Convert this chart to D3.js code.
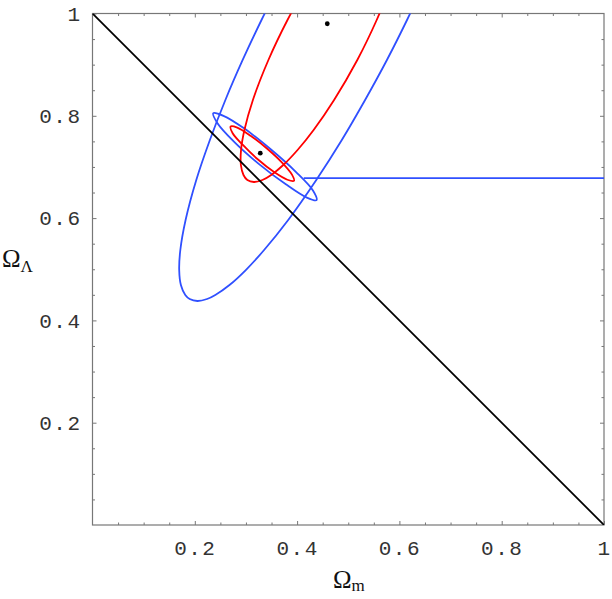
<!DOCTYPE html>
<html>
<head>
<meta charset="utf-8">
<script src="https://cdn.jsdelivr.net/npm/d3@7"></script>
<style>
  html, body { margin: 0; padding: 0; background: #fff; }
  svg { display: block; }
</style>
</head>
<body>
<svg id="chart" width="612" height="599"></svg>
<script>
// ---- data (Omega_m, Omega_Lambda) ----
const majorTicks = [0.2, 0.4, 0.6, 0.8, 1];
const majorTickLabels = ["0.2", "0.4", "0.6", "0.8", "1"];
const minorTicks = [0.05,0.1,0.15,0.25,0.3,0.35,0.45,0.5,0.55,0.65,0.7,0.75,0.85,0.9,0.95];

const flatLine = [[0, 1], [1, 0]];

const blueLarge = [
  [0.3599,1.0459],[0.3304,0.9873],[0.2936,0.9091],[0.2598,0.8309],[0.2295,0.7527],
  [0.2029,0.6745],[0.1820,0.5963],[0.1717,0.5376],[0.1695,0.4985],[0.1728,0.4692],
  [0.1814,0.4497],[0.1900,0.4418],[0.2051,0.4379],[0.2240,0.4418],[0.2401,0.4497],
  [0.2678,0.4692],[0.2997,0.4985],[0.3355,0.5376],[0.3826,0.5963],[0.4375,0.6745],
  [0.4874,0.7527],[0.5329,0.8309],[0.5756,0.9091],[0.6149,0.9873],[0.6424,1.0459]
];
const blueSmall = [
  [0.438,0.635],[0.419,0.640],[0.378,0.666],[0.325,0.706],[0.276,0.750],
  [0.244,0.786],[0.236,0.805],[0.256,0.800],[0.297,0.775],[0.349,0.734],
  [0.398,0.690],[0.431,0.654]
];
const blueFlat = [[0.413, 0.678], [1, 0.678]];

const redLarge = [
  [0.4137,1.0459],[0.3812,0.9873],[0.3439,0.9091],[0.3136,0.8309],[0.2970,0.7722],
  [0.2904,0.7331],[0.2901,0.7038],[0.2952,0.6843],[0.3028,0.6745],[0.3155,0.6706],
  [0.3322,0.6745],[0.3494,0.6843],[0.3730,0.7038],[0.4009,0.7331],[0.4323,0.7722],
  [0.4723,0.8309],[0.5177,0.9091],[0.5556,0.9873],[0.5795,1.0459]
];
const redSmall = [
  [0.394,0.673],[0.381,0.675],[0.355,0.690],[0.323,0.715],[0.294,0.743],
  [0.274,0.766],[0.270,0.779],[0.283,0.777],[0.309,0.761],[0.341,0.736],
  [0.371,0.708],[0.390,0.685]
];

const bestFits = [[0.328, 0.727], [0.459, 0.980]];

// ---- drawing ----
const svg = d3.select("#chart");
const x = d3.scaleLinear().domain([0, 1]).range([92.5, 604]);
const y = d3.scaleLinear().domain([0, 1]).range([525, 13.5]);

const frameColor = "#777";
const blue = "#3050ff";
const red = "#ff0000";
const lw = 1.8;

svg.append("defs").append("clipPath").attr("id", "plotclip")
  .append("rect")
  .attr("x", x(0)).attr("y", y(1))
  .attr("width", x(1) - x(0)).attr("height", y(0) - y(1));

function styleAxis(g) {
  g.select(".domain").remove();
  g.selectAll(".tick line").attr("stroke", frameColor).attr("stroke-width", 1);
  g.selectAll(".tick text")
    .attr("fill", "#333")
    .style("font-family", "'Liberation Mono', 'DejaVu Sans Mono', monospace")
    .style("font-size", "21px")
    .style("letter-spacing", "1.5px");
}

// major ticks with labels (left, bottom)
svg.append("g").attr("transform", `translate(${x(0)},0)`)
  .call(d3.axisLeft(y).tickValues(majorTicks).tickFormat((d, i) => majorTickLabels[i])
    .tickSizeInner(-4).tickSizeOuter(0).tickPadding(11))
  .call(styleAxis);
svg.append("g").attr("transform", `translate(0,${y(0)})`)
  .call(d3.axisBottom(x).tickValues(majorTicks).tickFormat((d, i) => majorTickLabels[i])
    .tickSizeInner(-4).tickSizeOuter(0).tickPadding(15))
  .call(styleAxis);
// major ticks without labels (right, top)
svg.append("g").attr("transform", `translate(${x(1)},0)`)
  .call(d3.axisRight(y).tickValues(majorTicks.filter(d => d < 1)).tickFormat("")
    .tickSizeInner(-4).tickSizeOuter(0))
  .call(styleAxis);
svg.append("g").attr("transform", `translate(0,${y(1)})`)
  .call(d3.axisTop(x).tickValues(majorTicks.filter(d => d < 1)).tickFormat("")
    .tickSizeInner(-4).tickSizeOuter(0))
  .call(styleAxis);
// minor ticks on all sides
[[d3.axisLeft(y), `translate(${x(0)},0)`],
 [d3.axisRight(y), `translate(${x(1)},0)`],
 [d3.axisBottom(x), `translate(0,${y(0)})`],
 [d3.axisTop(x), `translate(0,${y(1)})`]].forEach(([ax, tr]) => {
  svg.append("g").attr("transform", tr)
    .call(ax.tickValues(minorTicks).tickFormat("").tickSizeInner(-2.5).tickSizeOuter(0))
    .call(styleAxis);
});

// frame
svg.append("rect")
  .attr("x", x(0)).attr("y", y(1))
  .attr("width", x(1) - x(0)).attr("height", y(0) - y(1))
  .attr("fill", "none").attr("stroke", frameColor).attr("stroke-width", 1.2);

const plot = svg.append("g").attr("clip-path", "url(#plotclip)");
const lineOpen = d3.line().x(d => x(d[0])).y(d => y(d[1])).curve(d3.curveCatmullRom.alpha(0.5));
const lineClosed = d3.line().x(d => x(d[0])).y(d => y(d[1])).curve(d3.curveCatmullRomClosed.alpha(0.5));
const lineStraight = d3.line().x(d => x(d[0])).y(d => y(d[1]));

plot.append("path").attr("d", lineOpen(blueLarge))
  .attr("fill", "none").attr("stroke", blue).attr("stroke-width", lw);
plot.append("path").attr("d", lineClosed(blueSmall))
  .attr("fill", "none").attr("stroke", blue).attr("stroke-width", lw);
plot.append("path").attr("d", lineStraight(blueFlat))
  .attr("fill", "none").attr("stroke", blue).attr("stroke-width", lw);
plot.append("path").attr("d", lineOpen(redLarge))
  .attr("fill", "none").attr("stroke", red).attr("stroke-width", lw);
plot.append("path").attr("d", lineClosed(redSmall))
  .attr("fill", "none").attr("stroke", red).attr("stroke-width", lw);
plot.append("path").attr("d", lineStraight(flatLine))
  .attr("fill", "none").attr("stroke", "#000").attr("stroke-width", lw);

plot.selectAll("circle.fit").data(bestFits).enter().append("circle")
  .attr("class", "fit")
  .attr("cx", d => x(d[0])).attr("cy", d => y(d[1])).attr("r", 2.4)
  .attr("fill", "#000");

// axis titles
const xt = svg.append("text").attr("x", 333).attr("y", 588)
  .style("font-family", "'Liberation Serif', 'DejaVu Serif', serif").style("font-size", "25px")
  .attr("fill", "#111");
xt.append("tspan").text("Ω");
xt.append("tspan").attr("dy", 3).style("font-size", "17px").text("m");

const yt = svg.append("text").attr("x", 2).attr("y", 267)
  .style("font-family", "'Liberation Serif', 'DejaVu Serif', serif").style("font-size", "25px")
  .attr("fill", "#111");
yt.append("tspan").text("Ω");
yt.append("tspan").attr("dy", 5).style("font-size", "17px").text("Λ");
</script>
</body>
</html>
